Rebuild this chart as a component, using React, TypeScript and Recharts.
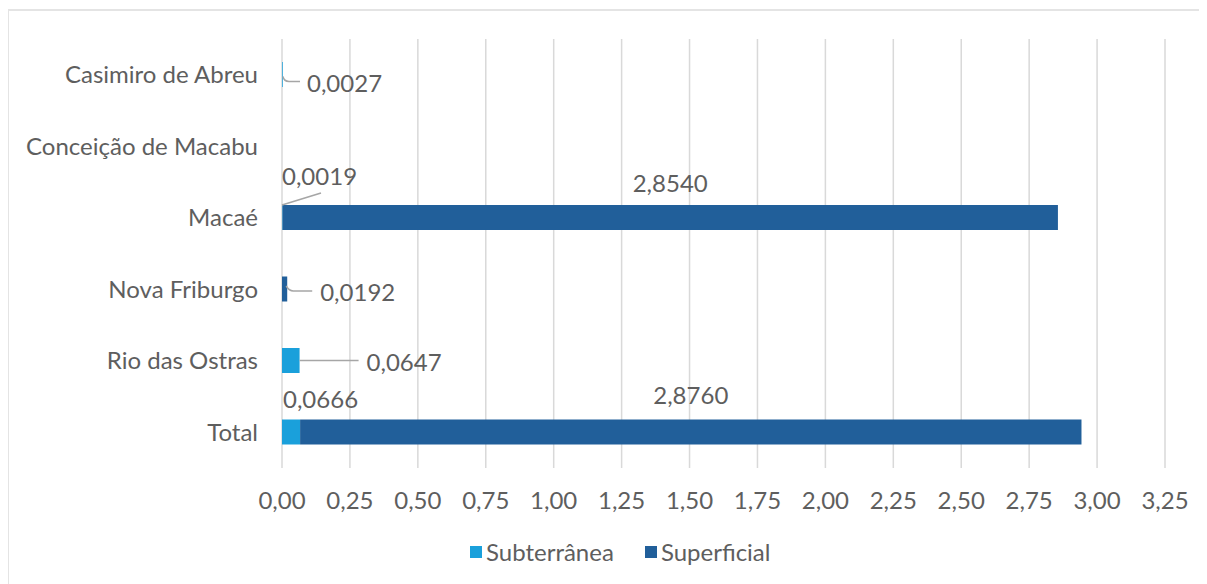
import React from 'react';
import { BarChart, Bar, XAxis, YAxis, CartesianGrid, Legend, LabelList } from 'recharts';

// Vazão outorgada por município e tipo de captação
const municipios = ['Casimiro de Abreu', 'Conceição de Macabu', 'Macaé', 'Nova Friburgo', 'Rio das Ostras', 'Total'];
const subterranea = [0.0027, 0, 0.0019, 0, 0.0647, 0.0666];
const superficial = [0, 0, 2.854, 0.0192, 0, 2.876];
const xTicks = [0, 0.25, 0.5, 0.75, 1, 1.25, 1.5, 1.75, 2, 2.25, 2.5, 2.75, 3, 3.25];

const data = municipios.map((nome, i) => ({
  nome,
  subterranea: subterranea[i],
  superficial: superficial[i],
}));

const COR_SUB = '#1AA0DB';
const COR_SUP = '#215F9A';
const TEXTO = '#5E5E5E';
const GUIA = '#A6A6A6';
const FONTE = 'Lato, "Open Sans", sans-serif';
const PESO = 400;

const fmt2 = (v: number) => v.toFixed(2).replace('.', ',');
const fmt4 = (v: number) => v.toFixed(4).replace('.', ',');

const textStyle = { fontFamily: FONTE, fontSize: 24, fontWeight: PESO, fill: TEXTO } as const;

// The label lists are keyed by municipality name; the value is looked up from the series.
function SubLabel(props: any) {
  const { x, y, width, height, value: nome } = props;
  const v = subterranea[municipios.indexOf(nome)];
  if (!v) return null;
  const cy = y + height / 2;
  const end = x + width;
  const t = fmt4(v);
  switch (nome) {
    case 'Casimiro de Abreu':
      return (
        <g>
          <path d={`M${x + 1},${cy + 2} Q${x + 2},${cy + 7} ${x + 7},${cy + 7} L${x + 18},${cy + 7}`} stroke={GUIA} strokeWidth={1.5} fill="none" />
          <text x={x + 25} y={cy + 17} style={textStyle}>{t}</text>
        </g>
      );
    case 'Macaé':
      return (
        <g>
          <line x1={x} y1={y} x2={x + 39} y2={y - 12} stroke={GUIA} strokeWidth={1.5} />
          <text x={x} y={y - 20} style={textStyle}>{t}</text>
        </g>
      );
    case 'Rio das Ostras':
      return (
        <g>
          <line x1={end} y1={cy} x2={end + 59} y2={cy} stroke={GUIA} strokeWidth={1.5} />
          <text x={end + 67} y={cy + 10} style={textStyle}>{t}</text>
        </g>
      );
    default:
      return <text x={x + 1} y={y - 12} style={textStyle}>{t}</text>;
  }
}

function SupLabel(props: any) {
  const { x, y, width, height, value: nome } = props;
  const v = superficial[municipios.indexOf(nome)];
  if (!v) return null;
  const cy = y + height / 2;
  const end = x + width;
  const t = fmt4(v);
  switch (nome) {
    case 'Nova Friburgo':
      return (
        <g>
          <path d={`M${end - 1},${cy - 3} Q${end + 2},${cy + 2} ${end + 6},${cy + 2} L${end + 25},${cy + 2}`} stroke={GUIA} strokeWidth={1.5} fill="none" />
          <text x={end + 33} y={cy + 12} style={textStyle}>{t}</text>
        </g>
      );
    case 'Macaé':
      return <text x={x + width / 2} y={y - 13} textAnchor="middle" style={textStyle}>{t}</text>;
    default:
      return <text x={x + width / 2} y={y - 16} textAnchor="middle" style={textStyle}>{t}</text>;
  }
}

function Legenda() {
  const item = (cor: string, nome: string, gap: number) => (
    <div style={{ display: 'flex', alignItems: 'center', marginRight: gap }}>
      <div style={{ width: 12, height: 12, background: cor, marginRight: 4 }} />
      <span style={{ fontFamily: FONTE, fontSize: 24, fontWeight: PESO, color: TEXTO, lineHeight: '24px' }}>{nome}</span>
    </div>
  );
  return (
    <div style={{ display: 'flex', height: 24, paddingLeft: 461, alignItems: 'center' }}>
      {item(COR_SUB, 'Subterrânea', 31)}
      {item(COR_SUP, 'Superficial', 0)}
    </div>
  );
}

export default function App() {
  return (
    <div
      style={{
        marginTop: 1,
        marginLeft: -1,
        width: 1220,
        height: 600,
        borderTop: '2px solid #E4E4E4',
        borderLeft: '2px solid #E4E4E4',
        background: '#FFFFFF',
      }}
    >
      <BarChart
        width={1198}
        height={573}
        data={data}
        layout="vertical"
        margin={{ top: 28, right: 42, bottom: 20, left: 0 }}
      >
        <CartesianGrid horizontal={false} stroke="#D9D9D9" strokeWidth={1.5} />
        <XAxis
          type="number"
          domain={[0, 3.25]}
          ticks={xTicks}
          tickFormatter={fmt2}
          axisLine={false}
          tickLine={false}
          tickSize={0}
          tickMargin={24}
          height={72}
          interval={0}
          tick={{ fontFamily: FONTE, fontSize: 24, fontWeight: PESO, fill: TEXTO }}
        />
        <YAxis
          type="category"
          dataKey="nome"
          width={273}
          axisLine={false}
          tickLine={false}
          tickSize={0}
          tickMargin={24}
          interval={0}
          tick={{ fontFamily: FONTE, fontSize: 24, fontWeight: PESO, fill: TEXTO }}
        />
        <Legend verticalAlign="bottom" content={() => <Legenda />} />
        <Bar dataKey="subterranea" stackId="a" fill={COR_SUB} barSize={25} isAnimationActive={false}>
          <LabelList dataKey="nome" content={SubLabel} />
        </Bar>
        <Bar dataKey="superficial" stackId="a" fill={COR_SUP} barSize={25} isAnimationActive={false}>
          <LabelList dataKey="nome" content={SupLabel} />
        </Bar>
      </BarChart>
    </div>
  );
}
